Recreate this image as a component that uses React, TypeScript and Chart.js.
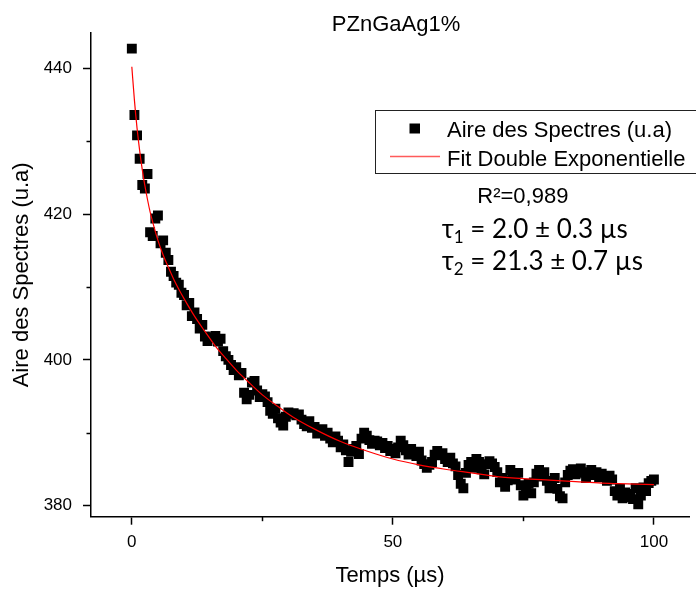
import React, { useEffect, useRef } from 'react';
import { Chart, registerables } from 'chart.js';

Chart.register(...registerables);

const CHART_TITLE = 'PZnGaAg1%';
const X_TITLE = 'Temps (µs)';
const Y_TITLE = 'Aire des Spectres (u.a)';
const LEGEND_POINTS = 'Aire des Spectres (u.a)';
const LEGEND_FIT = 'Fit Double Exponentielle';
const R2_TEXT = 'R²=0,989';
const TAU1 = ['τ', '1', ' = 2.0 ± 0.3 µs'];
const TAU2 = ['τ', '2', ' = 21.3 ± 0.7 µs'];

const xTickValues = [0, 25, 50, 75, 100];
const xTickLabels = ['0', '', '50', '', '100'];
const yTickValues = [380, 390, 400, 410, 420, 430, 440];
const yTickLabels = ['380', '', '400', '', '420', '', '440'];

const X_MIN = -7.82;
const X_MAX = 106.72;
const Y_MIN = 378.49;
const Y_MAX = 444.84;

// measured times (µs)
const timeUs = [
  0, 0.5, 1, 1.5, 2, 2.5, 3, 3.5, 4, 4.5,
  5, 5.5, 6, 6.5, 7, 7.5, 8, 8.5, 9, 9.5,
  10, 10.5, 11, 11.5, 12, 12.5, 13, 13.5, 14, 14.5,
  15, 15.5, 16, 16.5, 17, 17.5, 18, 18.5, 19, 19.5,
  20, 20.5, 21, 21.5, 22, 22.5, 23, 23.5, 24, 24.5,
  25, 25.5, 26, 26.5, 27, 27.5, 28, 28.5, 29, 29.5,
  30, 30.5, 31, 31.5, 32, 32.5, 33, 33.5, 34, 34.5,
  35, 35.5, 36, 36.5, 37, 37.5, 38, 38.5, 39, 39.5,
  40, 40.5, 41, 41.5, 42, 42.5, 43, 43.5, 44, 44.5,
  45, 45.5, 46, 46.5, 47, 47.5, 48, 48.5, 49, 49.5,
  50, 50.5, 51, 51.5, 52, 52.5, 53, 53.5, 54, 54.5,
  55, 55.5, 56, 56.5, 57, 57.5, 58, 58.5, 59, 59.5,
  60, 60.5, 61, 61.5, 62, 62.5, 63, 63.5, 64, 64.5,
  65, 65.5, 66, 66.5, 67, 67.5, 68, 68.5, 69, 69.5,
  70, 70.5, 71, 71.5, 72, 72.5, 73, 73.5, 74, 74.5,
  75, 75.5, 76, 76.5, 77, 77.5, 78, 78.5, 79, 79.5,
  80, 80.5, 81, 81.5, 82, 82.5, 83, 83.5, 84, 84.5,
  85, 85.5, 86, 86.5, 87, 87.5, 88, 88.5, 89, 89.5,
  90, 90.5, 91, 91.5, 92, 92.5, 93, 93.5, 94, 94.5,
  95, 95.5, 96, 96.5, 97, 97.5, 98, 98.5, 99, 99.5,
  100,
];

// measured spectral area (u.a)
const areaValues = [
  442.7, 433.6, 430.8, 427.6, 424.0, 423.5, 425.5, 417.5, 417.0, 419.4,
  419.8, 416.0, 416.4, 414.7, 413.7, 412.1, 411.5, 410.6, 410.3, 409.2,
  408.9, 407.5, 407.8, 406.0, 406.5, 405.6, 404.3, 404.8, 403.2, 402.6,
  403.1, 403.0, 403.3, 402.5, 402.9, 401.2, 400.5, 400.0, 399.3, 398.6,
  399.0, 397.9, 398.2, 395.5, 394.6, 395.2, 396.9, 397.1, 395.8, 394.9,
  395.3, 395.0, 394.2, 393.0, 392.6, 393.3, 392.0, 391.4, 391.0, 392.2,
  392.8, 392.6, 392.7, 392.4, 392.5, 391.8, 391.2, 390.9, 391.6, 390.7,
  390.8, 389.9, 390.3, 390.5, 389.6, 390.0, 389.2, 388.7, 389.5, 388.9,
  388.0, 388.4, 387.6, 386.0, 387.4, 387.8, 388.2, 387.1, 389.2, 390.0,
  389.6, 389.0, 388.5, 388.9, 388.8, 388.3, 388.6, 387.9, 388.2, 387.5,
  387.8, 387.2, 388.0, 388.9, 388.3, 387.6, 387.0, 387.8, 387.3, 386.8,
  387.4, 386.2, 385.7, 385.2, 385.6, 386.0, 387.0, 387.5, 386.9, 387.2,
  386.4, 386.0, 386.6, 385.8, 385.4, 384.2, 383.0, 382.4, 384.5, 385.6,
  386.0, 385.2, 386.4, 386.0, 385.0, 384.3, 385.7, 386.1, 385.8, 385.3,
  384.6, 383.2, 383.8, 382.6, 383.5, 384.9, 384.1, 383.6, 384.5, 382.8,
  381.4, 382.0, 383.0, 381.7, 383.2, 384.4, 384.9, 384.0, 384.6, 383.4,
  382.4, 382.9, 383.8, 382.3, 381.3, 381.0, 383.2, 384.2, 384.8, 385.0,
  384.3, 384.7, 385.1, 384.5, 383.8, 384.6, 384.9, 384.2, 384.6, 383.9,
  384.4, 384.0, 383.4, 384.1, 383.6, 382.0, 381.4, 382.3, 381.0, 381.8,
  381.2, 381.6, 380.9, 382.4, 380.2, 381.4, 382.5, 382.0, 383.1, 383.4,
  383.6,
];

// fit curve
const fitTime = [
  0, 0.5, 1, 1.5, 2, 2.5, 3, 3.5, 4, 5, 6, 7, 8, 9, 10, 12, 14, 16, 18, 20,
  22, 25, 28, 31, 35, 40, 45, 50, 55, 60, 65, 70, 75, 80, 85, 90, 95, 100,
];
const fitArea = [
  440.2, 435.6, 431.8, 428.7, 426.1, 423.9, 422.0, 420.3, 418.9, 416.4,
  414.4, 412.7, 411.1, 409.7, 408.4, 406.0, 403.9, 401.9, 400.2, 398.6,
  397.2, 395.2, 393.6, 392.1, 390.5, 388.8, 387.5, 386.4, 385.6, 385.0,
  384.5, 384.0, 383.7, 383.5, 383.3, 383.1, 383.0, 382.9,
];

const SANS = '"Liberation Sans", Arial, Helvetica, sans-serif';
const CALIBRI_LIKE = 'Lato, "Open Sans", sans-serif';

export default function App() {
  const ref = useRef<HTMLCanvasElement | null>(null);

  useEffect(() => {
    document.body.style.margin = '0';
    const canvas = ref.current;
    if (!canvas) return;

    Chart.defaults.font.family = SANS;

    const scatterData = timeUs.map((t, i) => ({ x: t, y: areaValues[i] }));
    const fitData = fitTime.map((t, i) => ({ x: t, y: fitArea[i] }));

    const overlay = {
      id: 'overlay',
      afterDraw(chart: any) {
        const ctx: CanvasRenderingContext2D = chart.ctx;
        const xs = chart.scales.x;
        const ys = chart.scales.y;
        ctx.save();
        // minor ticks
        ctx.strokeStyle = '#000';
        ctx.lineWidth = 1.5;
        xTickValues.forEach((v, i) => {
          if (i % 2 === 1) {
            const p = Math.round(xs.getPixelForValue(v)) + 0.5;
            ctx.beginPath();
            ctx.moveTo(p, chart.chartArea.bottom);
            ctx.lineTo(p, chart.chartArea.bottom + 4.5);
            ctx.stroke();
          }
        });
        yTickValues.forEach((v, i) => {
          if (i % 2 === 1) {
            const p = Math.round(ys.getPixelForValue(v)) + 0.5;
            ctx.beginPath();
            ctx.moveTo(chart.chartArea.left - 4.5, p);
            ctx.lineTo(chart.chartArea.left, p);
            ctx.stroke();
          }
        });

        // title
        ctx.fillStyle = '#000';
        ctx.textBaseline = 'alphabetic';
        ctx.textAlign = 'center';
        ctx.font = `22px ${SANS}`;
        ctx.fillText(CHART_TITLE, 396, 30.7);

        // legend box
        ctx.lineWidth = 1;
        ctx.strokeStyle = '#222';
        ctx.strokeRect(375.5, 110.5, 360, 63);
        ctx.fillStyle = '#000';
        ctx.fillRect(409.5, 123.5, 10.5, 10);
        ctx.strokeStyle = '#ff5a5a';
        ctx.lineWidth = 1.3;
        ctx.beginPath();
        ctx.moveTo(390, 156.5);
        ctx.lineTo(440, 156.5);
        ctx.stroke();
        ctx.textAlign = 'left';
        ctx.font = `22px ${SANS}`;
        ctx.fillText(LEGEND_POINTS, 447, 137);
        ctx.fillText(LEGEND_FIT, 447, 165.5);

        // R²
        ctx.fillText(R2_TEXT, 477.3, 202.7);

        // tau lines
        const drawTau = (parts: string[], x: number, y: number) => {
          ctx.font = `26px ${CALIBRI_LIKE}`;
          ctx.fillText(parts[0], x, y);
          let cx = x + ctx.measureText(parts[0]).width;
          ctx.font = `17px ${CALIBRI_LIKE}`;
          ctx.fillText(parts[1], cx, y + 5);
          cx += ctx.measureText(parts[1]).width;
          ctx.font = `26px ${CALIBRI_LIKE}`;
          ctx.fillText(parts[2], cx, y);
        };
        drawTau(TAU1, 441.7, 238.3);
        drawTau(TAU2, 441.7, 270);
        ctx.restore();
      },
    };

    const tickColor = (c: any) => (c.index % 2 === 0 ? '#000' : 'rgba(0,0,0,0)');

    const chart = new Chart(canvas, {
      type: 'scatter',
      data: {
        datasets: [
          {
            label: LEGEND_FIT,
            data: fitData,
            showLine: true,
            borderColor: '#ff0000',
            borderWidth: 1.2,
            pointRadius: 0,
            cubicInterpolationMode: 'monotone',
            order: 0,
          } as any,
          {
            label: LEGEND_POINTS,
            data: scatterData,
            pointStyle: 'rect',
            pointRadius: 7,
            backgroundColor: '#000',
            borderColor: '#000',
            borderWidth: 0,
            order: 1,
          } as any,
        ],
      },
      options: {
        responsive: false,
        animation: false,
        events: [],
        layout: { padding: { top: 33, left: 0, right: 0, bottom: 0 } },
        plugins: {
          legend: { display: false },
          tooltip: { enabled: false },
          title: { display: false },
        },
        scales: {
          x: {
            type: 'linear',
            min: X_MIN,
            max: X_MAX,
            afterBuildTicks: (s: any) => {
              s.ticks = xTickValues.map((v) => ({ value: v }));
            },
            afterFit: (s: any) => {
              s.height = 72.3;
            },
            ticks: {
              autoSkip: false,
              maxRotation: 0,
              padding: 7,
              color: '#000',
              font: { size: 17, family: SANS },
              callback: (_v: any, i: number) => xTickLabels[i],
            },
            grid: {
              drawOnChartArea: false,
              drawTicks: true,
              tickLength: 8,
              tickWidth: 1.5,
              tickColor,
            },
            border: { display: true, color: '#000', width: 1.5 },
            title: {
              display: true,
              text: X_TITLE,
              color: '#000',
              font: { size: 22, family: SANS, lineHeight: 1.15 },
              padding: { top: 0, bottom: 0 },
            },
          },
          y: {
            type: 'linear',
            min: Y_MIN,
            max: Y_MAX,
            afterBuildTicks: (s: any) => {
              s.ticks = yTickValues.map((v) => ({ value: v }));
            },
            afterFit: (s: any) => {
              s.width = 91;
            },
            ticks: {
              autoSkip: false,
              padding: 11,
              color: '#000',
              font: { size: 17, family: SANS },
              callback: (_v: any, i: number) => yTickLabels[i],
            },
            grid: {
              drawOnChartArea: false,
              drawTicks: true,
              tickLength: 8,
              tickWidth: 1.5,
              tickColor,
            },
            border: { display: true, color: '#000', width: 1.5 },
            title: {
              display: true,
              text: Y_TITLE,
              color: '#000',
              font: { size: 22, family: SANS, lineHeight: 1.15 },
              padding: { top: 9, bottom: 0 },
            },
          },
        },
      } as any,
      plugins: [overlay],
    });

    return () => chart.destroy();
  }, []);

  return (
    <div style={{ width: 696, height: 589, overflow: 'hidden', background: '#fff' }}>
      <canvas ref={ref} width={696} height={589} style={{ display: 'block' }} />
    </div>
  );
}
